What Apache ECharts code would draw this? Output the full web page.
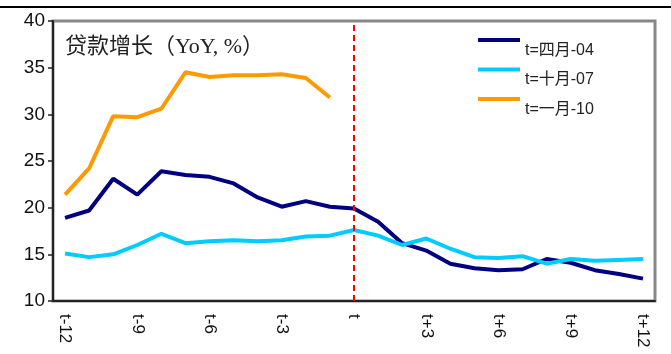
<!DOCTYPE html>
<html>
<head>
<meta charset="utf-8">
<script src="https://cdn.jsdelivr.net/npm/echarts@6/dist/echarts.min.js"></script>
<style>
  html, body { margin: 0; padding: 0; background: #fff; }
  #chart { width: 671px; height: 354px; }
</style>
</head>
<body>
<div id="chart"></div>
<script>
// Months relative to the reference month t
const months = ['t-12','t-11','t-10','t-9','t-8','t-7','t-6','t-5','t-4','t-3','t-2','t-1','t',
                't+1','t+2','t+3','t+4','t+5','t+6','t+7','t+8','t+9','t+10','t+11','t+12'];
const shownTicks = ['t-12','t-9','t-6','t-3','t','t+3','t+6','t+9','t+12'];

// Loan growth, YoY %
const apr04 = [18.9, 19.7, 23.1, 21.4, 23.9, 23.5, 23.3, 22.6, 21.1, 20.1, 20.7, 20.1, 19.9,
               18.5, 16.2, 15.4, 14.0, 13.5, 13.3, 13.4, 14.5, 14.1, 13.3, 12.9, 12.4];
const oct07 = [15.1, 14.7, 15.0, 16.0, 17.2, 16.2, 16.4, 16.5, 16.4, 16.5, 16.9, 17.0, 17.6,
               17.0, 16.0, 16.7, 15.6, 14.7, 14.6, 14.8, 14.0, 14.5, 14.3, 14.4, 14.5];
const jan10 = [21.4, 24.2, 29.8, 29.7, 30.6, 34.5, 34.0, 34.2, 34.2, 34.3, 33.9, 31.8];

const names = ['t=四月-04', 't=十月-07', 't=一月-10'];
const colors = ['#000080', '#00CCFF', '#FF9900'];

const chart = echarts.init(document.getElementById('chart'));
chart.setOption({
  animation: false,
  backgroundColor: '#fff',
  title: {
    text: '贷款增长（YoY, %）',
    left: 60, top: 31,
    textStyle: { fontFamily: 'Liberation Serif, Noto Sans CJK SC', fontSize: 22, fontWeight: 'normal', color: '#222' }
  },
  legend: {
    orient: 'vertical',
    left: 473, top: 33,
    itemWidth: 42, itemHeight: 4,
    itemGap: 9,
    icon: 'rect',
    data: names,
    formatter: '{n|{name}}',
    textStyle: {
      rich: {
        n: { fontFamily: 'Liberation Sans, Noto Sans CJK SC', fontSize: 16, color: '#222', padding: [21, 0, 0, 0], height: 28 }
      }
    }
  },
  grid: {
    left: 53, right: 16, top: 21, bottom: 53,
    show: true, borderColor: '#888', borderWidth: 3, backgroundColor: 'transparent'
  },
  graphic: [{
    type: 'line', shape: { x1: 0, y1: 7, x2: 671, y2: 7 },
    style: { stroke: '#000', lineWidth: 2 }
  }],
  xAxis: {
    type: 'category',
    data: months,
    boundaryGap: true,
    axisLine: { lineStyle: { color: '#222', width: 2 } },
    axisTick: { show: false },
    axisLabel: {
      interval: (i, v) => shownTicks.includes(v),
      rotate: -90,
      margin: 13,
      fontFamily: 'Liberation Sans', fontSize: 17, color: '#111'
    },
    splitLine: { show: false }
  },
  yAxis: {
    type: 'value',
    min: 10, max: 40, interval: 5,
    axisLine: { show: true, lineStyle: { color: '#222', width: 2 } },
    axisTick: { show: true, length: 5, lineStyle: { color: '#222', width: 1.5 } },
    axisLabel: { fontFamily: 'Liberation Sans', fontSize: 19, color: '#111', margin: 8 },
    splitLine: { show: false }
  },
  series: [
    {
      name: names[0], type: 'line', data: apr04, symbol: 'none',
      lineStyle: { color: colors[0], width: 4 }, itemStyle: { color: colors[0] },
      markLine: {
        silent: true, symbol: 'none', label: { show: false },
        lineStyle: { color: '#FF0000', type: [6, 4], width: 2 },
        data: [{ xAxis: 't' }]
      }
    },
    {
      name: names[1], type: 'line', data: oct07, symbol: 'none',
      lineStyle: { color: colors[1], width: 4 }, itemStyle: { color: colors[1] }
    },
    {
      name: names[2], type: 'line', data: jan10, symbol: 'none',
      lineStyle: { color: colors[2], width: 4 }, itemStyle: { color: colors[2] }
    }
  ]
});
</script>
</body>
</html>
